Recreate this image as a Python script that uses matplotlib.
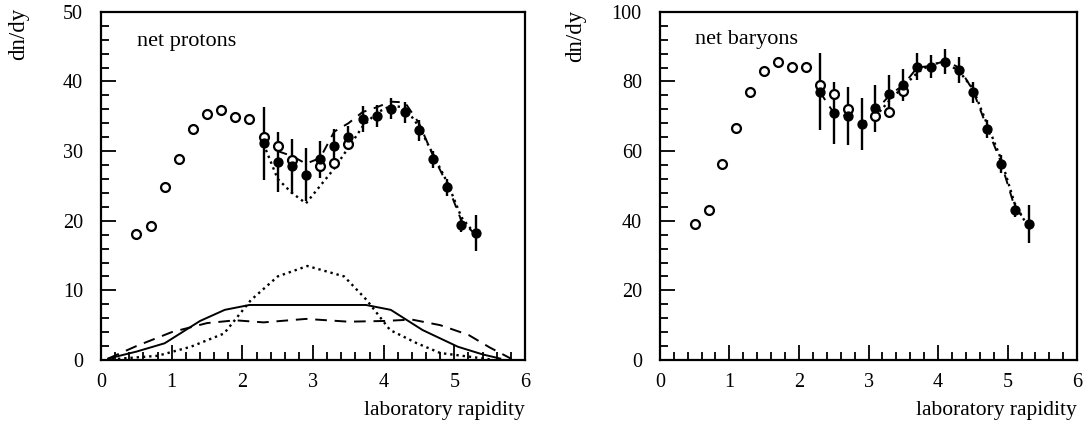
import numpy as np
import matplotlib
matplotlib.use("Agg")
import matplotlib.pyplot as plt
from matplotlib.ticker import MultipleLocator

plt.rcParams['font.family'] = ['Liberation Serif', 'DejaVu Serif']

# ---------------- net protons ----------------
p_open_x = [0.5, 0.7, 0.9, 1.1, 1.3, 1.5, 1.7, 1.9, 2.1, 2.3, 2.5, 2.7, 3.1, 3.3, 3.5]
p_open_y = [18.1, 19.3, 24.8, 28.8, 33.2, 35.4, 35.9, 34.9, 34.6, 32.0, 30.7, 28.7, 27.8, 28.3, 31.0]

p_fill_x = [2.3, 2.5, 2.7, 2.9, 3.1, 3.3, 3.5, 3.7, 3.9, 4.1, 4.3, 4.5, 4.7, 4.9, 5.1, 5.3]
p_fill_y = [31.1, 28.4, 27.8, 26.6, 28.8, 30.7, 32.0, 34.6, 35.0, 36.1, 35.6, 33.0, 28.8, 24.8, 19.4, 18.2]
p_fill_err = [5.3, 4.3, 4.0, 3.8, 2.6, 2.5, 1.6, 1.9, 1.6, 1.5, 1.5, 1.5, 1.2, 1.2, 1.0, 2.6]

p_dash_x = [2.5, 2.7, 2.9, 3.1, 3.3, 3.5, 3.7, 3.9, 4.1, 4.3, 4.5, 4.7, 4.9, 5.1, 5.3]
p_dash_y = [30.0, 29.3, 28.2, 29.0, 32.8, 34.0, 35.6, 36.3, 37.1, 37.0, 34.0, 29.3, 25.2, 20.0, 18.0]

p_dot_x = [2.3, 2.5, 2.7, 2.9, 3.1, 3.3, 3.5, 3.7, 3.9, 4.1, 4.3, 4.5, 4.7, 4.9, 5.1, 5.3]
p_dot_y = [31.0, 26.0, 24.0, 22.5, 25.0, 27.5, 30.5, 33.5, 35.5, 36.5, 36.3, 33.5, 29.5, 25.5, 20.5, 18.0]

# low curves (model components)
low_solid_x = [0.1, 0.5, 0.9, 1.4, 1.75, 2.1, 2.9, 3.75, 4.1, 4.55, 5.05, 5.4, 5.65]
low_solid_y = [0.2, 1.2, 2.4, 5.6, 7.2, 7.9, 7.9, 7.9, 7.2, 4.3, 1.9, 0.8, 0.2]

low_dash_x = [0.1, 0.5, 1.0, 1.5, 1.9, 2.3, 2.9, 3.5, 4.0, 4.4, 4.8, 5.2, 5.5, 5.8]
low_dash_y = [0.2, 2.0, 4.0, 5.3, 5.7, 5.4, 5.9, 5.5, 5.6, 5.8, 5.0, 3.6, 1.8, 0.2]

low_dot_x = [0.15, 0.8, 1.27, 1.74, 2.12, 2.5, 2.92, 3.44, 3.76, 4.09, 4.47, 4.8, 5.5]
low_dot_y = [0.1, 0.6, 1.9, 3.8, 8.6, 12.0, 13.5, 12.0, 8.6, 4.3, 2.4, 1.0, 0.1]

# ---------------- net baryons ----------------
b_open_x = [0.5, 0.7, 0.9, 1.1, 1.3, 1.5, 1.7, 1.9, 2.1, 2.3, 2.5, 2.7, 3.1, 3.3, 3.5]
b_open_y = [39.1, 43.2, 56.2, 66.5, 76.9, 83.1, 85.7, 84.1, 84.1, 78.9, 76.3, 72.2, 70.1, 71.3, 77.2]

b_fill_x = [2.3, 2.5, 2.7, 2.9, 3.1, 3.3, 3.5, 3.7, 3.9, 4.1, 4.3, 4.5, 4.7, 4.9, 5.1, 5.3]
b_fill_y = [77.1, 70.9, 70.1, 67.8, 72.3, 76.4, 79.0, 84.3, 84.3, 85.7, 83.3, 76.9, 66.4, 56.3, 43.1, 39.1]
b_fill_err = [11.0, 9.0, 8.3, 7.5, 6.8, 5.6, 4.5, 3.8, 3.4, 3.6, 3.6, 3.0, 2.5, 2.5, 2.0, 5.4]

b_dash_x = [2.3, 2.5, 2.7, 2.9, 3.1, 3.3, 3.5, 3.7, 3.9, 4.1, 4.3, 4.5, 4.7, 4.9, 5.1, 5.3]
b_dash_y = [77.0, 71.0, 70.0, 67.5, 71.5, 76.0, 79.0, 84.0, 84.5, 86.0, 84.0, 77.5, 67.0, 57.0, 44.0, 39.0]

b_dot_x = [3.1, 3.3, 3.5, 3.7, 3.9, 4.1, 4.3, 4.5, 4.7, 4.9, 5.1, 5.3]
b_dot_y = [70.0, 74.5, 78.5, 82.5, 85.0, 85.5, 83.0, 78.0, 68.0, 58.0, 45.0, 38.0]

fig = plt.figure(figsize=(10.87, 4.24), dpi=100)
axL = fig.add_axes([0.093, 0.151, 0.390, 0.821])
axR = fig.add_axes([0.607, 0.151, 0.384, 0.821])

ms = 6.4

def style(ax, ymax, ymajor, yminor):
    ax.set_xlim(0, 6)
    ax.set_ylim(0, ymax)
    ax.xaxis.set_major_locator(MultipleLocator(1))
    ax.xaxis.set_minor_locator(MultipleLocator(0.2))
    ax.yaxis.set_major_locator(MultipleLocator(ymajor))
    ax.yaxis.set_minor_locator(MultipleLocator(yminor))
    ax.tick_params(which='both', direction='in', top=False, right=False,
                   width=1.3, labelsize=14.5, colors='black')
    ax.tick_params(which='major', length=11)
    ax.tick_params(which='minor', length=5.5)
    ax.tick_params(axis='y', which='major', pad=13)
    ax.tick_params(axis='x', which='major', pad=9.5)
    for s in ax.spines.values():
        s.set_linewidth(1.6)
    ax.set_xlabel('laboratory rapidity', fontsize=15.5, loc='right', labelpad=6)

# left panel
axL.plot(low_solid_x, low_solid_y, '-', color='black', lw=1.4)
axL.plot(low_dash_x, low_dash_y, '--', color='black', lw=1.4, dashes=(6, 4))
axL.plot(low_dot_x, low_dot_y, ':', color='black', lw=1.7)
axL.plot(p_dash_x, p_dash_y, '--', color='black', lw=1.4, dashes=(5, 4))
axL.plot(p_dot_x, p_dot_y, ':', color='black', lw=1.7)
axL.errorbar(p_fill_x, p_fill_y, yerr=p_fill_err, fmt='o', color='black',
             ms=ms, elinewidth=1.7, capsize=0)
axL.plot(p_open_x, p_open_y, 'o', mfc='white', mec='black', mew=1.6, ms=ms)
style(axL, 50, 10, 2)
axL.text(0.51, 45.8, 'net protons', fontsize=16, va='center', ha='left')

# right panel
axR.plot(b_dash_x, b_dash_y, '--', color='black', lw=1.4, dashes=(5, 4))
axR.plot(b_dot_x, b_dot_y, ':', color='black', lw=1.7)
axR.errorbar(b_fill_x, b_fill_y, yerr=b_fill_err, fmt='o', color='black',
             ms=ms, elinewidth=1.7, capsize=0)
axR.plot(b_open_x, b_open_y, 'o', mfc='white', mec='black', mew=1.6, ms=ms)
style(axR, 100, 20, 4)
axR.text(0.50, 92, 'net baryons', fontsize=16, va='center', ha='left')

# y-axis titles placed at the reference positions
fig.text(19 / 1087, 1 - 8 / 424, 'dn/dy', rotation=90, ha='center', va='top', fontsize=16.5)
fig.text(576 / 1087, 1 - 10 / 424, 'dn/dy', rotation=90, ha='center', va='top', fontsize=16.5)

fig.savefig('out.png', dpi=100)
